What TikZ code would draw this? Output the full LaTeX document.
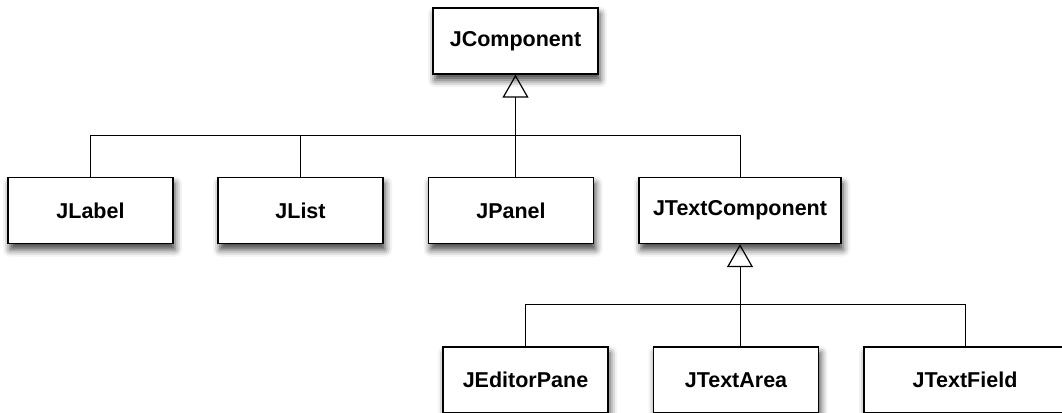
\documentclass[tikz,border=0pt]{standalone}
\usepackage{fontspec}
\setmainfont{Liberation Sans}
\usetikzlibrary{arrows.meta,shadows.blur}
\tikzset{
	cls/.style={draw,line width=1.3pt,fill=white,minimum width=165pt,minimum height=66pt,
		inner sep=0pt,font=\fontsize{21.5}{25}\selectfont\bfseries,
		blur shadow={shadow xshift=2pt,shadow yshift=-6pt,shadow blur radius=7pt,shadow opacity=75}},
	wide/.style={cls,minimum width=202pt},
	gen/.style={-{Triangle[open,length=23pt,width=26pt,line width=1.2pt]}}
}
\begin{document}
\begin{tikzpicture}[x=1pt,y=-1pt,line width=1pt]
	\useasboundingbox (0,0) rectangle (1062,412);
	\node[cls] (comp) at (515.5,41) {JComponent};
	\foreach \n/\x/\t in {label/90.5/JLabel,jlist/300.5/JList,panel/511/JPanel}{
		\node[cls] (\n) at (\x,210.5) {\t};
	}
	\node[wide] (textcomp) at (740,210.5) {JTextComponent};
	\node[cls] (editor) at (525.5,380) {JEditorPane};
	\node[cls] (area) at (736,380) {JTextArea};
	\node[wide] (field) at (965,380) {JTextField};
	\coordinate (bus1) at (0,135);
	\coordinate (bus2) at (0,304);
	% first level
	\draw[gen] (comp.south |- bus1) -- (comp.south);
	\draw (label.north) |- (textcomp.north |- bus1) -- (textcomp.north);
	\draw (jlist.north) -- (jlist.north |- bus1);
	\draw (comp.south |- bus1) -- (comp.south |- panel.north);
	% second level
	\draw[gen] (textcomp.south |- bus2) -- (textcomp.south);
	\draw (editor.north) |- (field.north |- bus2) -- (field.north);
	\draw (textcomp.south |- bus2) -- (textcomp.south |- area.north);
\end{tikzpicture}
\end{document}
